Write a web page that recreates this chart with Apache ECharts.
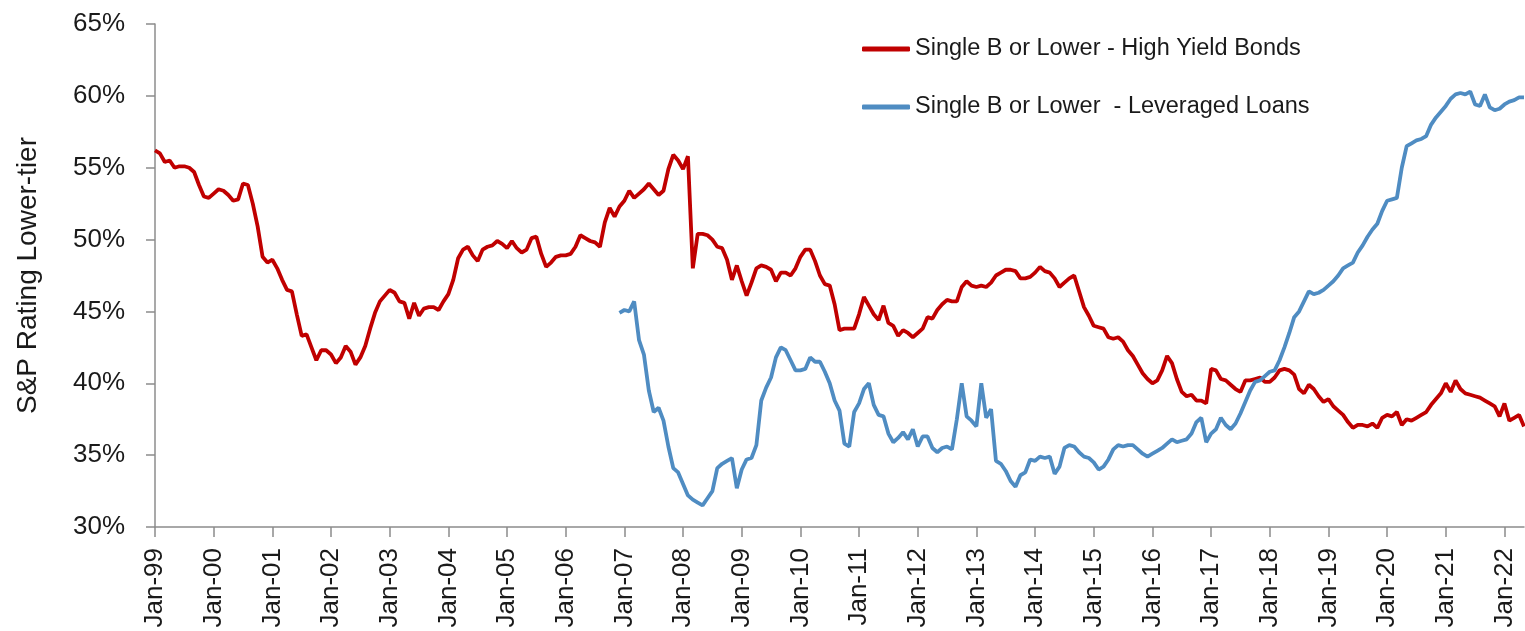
<!DOCTYPE html>
<html>
<head>
<meta charset="utf-8">
<script src="https://cdn.jsdelivr.net/npm/echarts@6/dist/echarts.min.js"></script>
<style>
  html, body { margin: 0; padding: 0; background: #fff; }
  #chart { width: 1525px; height: 631px; }
</style>
</head>
<body>
<div id="chart"></div>
<script>
// month labels Jan-99 .. May-22
const monthNames = ['Jan', 'Feb', 'Mar', 'Apr', 'May', 'Jun', 'Jul', 'Aug', 'Sep', 'Oct', 'Nov', 'Dec']
const months = []
for (let y = 1999; y <= 2022; y++) {
  for (let m = 0; m < 12; m++) {
    if (y === 2022 && m > 4) break
    months.push(monthNames[m] + '-' + String(y % 100).padStart(2, '0'))
  }
}

// Single B or Lower - High Yield Bonds, Jan-99 .. May-22 (%)
const highYieldBonds = [
  56.2, 56.0, 55.4, 55.5, 55.0, 55.1, 55.1, 55.0, 54.7, 53.8, 53.0, 52.9,
  53.2, 53.5, 53.4, 53.1, 52.7, 52.8, 53.9, 53.8, 52.5, 50.9, 48.8, 48.4,
  48.6, 48.0, 47.2, 46.5, 46.4, 44.8, 43.3, 43.4, 42.5, 41.6, 42.3, 42.3,
  42.0, 41.4, 41.8, 42.6, 42.2, 41.3, 41.8, 42.6, 43.8, 44.9, 45.7, 46.1,
  46.5, 46.3, 45.7, 45.6, 44.5, 45.6, 44.7, 45.2, 45.3, 45.3, 45.1, 45.7,
  46.2, 47.2, 48.7, 49.3, 49.5, 48.9, 48.5, 49.3, 49.5, 49.6, 49.9, 49.7,
  49.4, 49.9, 49.4, 49.1, 49.3, 50.1, 50.2, 49.0, 48.1, 48.4, 48.8, 48.9,
  48.9, 49.0, 49.5, 50.3, 50.1, 49.9, 49.8, 49.5, 51.2, 52.2, 51.6, 52.3,
  52.7, 53.4, 52.9, 53.2, 53.5, 53.9, 53.5, 53.1, 53.4, 54.9, 55.9, 55.5,
  54.9, 55.8, 48.0, 50.4, 50.4, 50.3, 50.0, 49.5, 49.4, 48.6, 47.2, 48.2,
  47.1, 46.1, 47.0, 48.0, 48.2, 48.1, 47.9, 47.1, 47.7, 47.7, 47.5, 48.0,
  48.8, 49.3, 49.3, 48.5, 47.5, 46.9, 46.8, 45.5, 43.7, 43.8, 43.8, 43.8,
  44.8, 46.0, 45.4, 44.8, 44.4, 45.4, 44.2, 44.0, 43.3, 43.7, 43.5, 43.2,
  43.5, 43.8, 44.6, 44.5, 45.1, 45.5, 45.8, 45.7, 45.7, 46.7, 47.1, 46.8,
  46.7, 46.8, 46.7, 47.0, 47.5, 47.7, 47.9, 47.9, 47.8, 47.3, 47.3, 47.4,
  47.7, 48.1, 47.8, 47.7, 47.3, 46.7, 47.0, 47.3, 47.5, 46.4, 45.3, 44.7,
  44.0, 43.9, 43.8, 43.2, 43.1, 43.2, 42.9, 42.3, 41.9, 41.3, 40.7, 40.3,
  40.0, 40.2, 40.9, 41.9, 41.4, 40.3, 39.4, 39.1, 39.2, 38.8, 38.8, 38.6,
  41.0, 40.9, 40.3, 40.2, 39.9, 39.6, 39.4, 40.2, 40.2, 40.3, 40.4, 40.1,
  40.1, 40.4, 40.9, 41.0, 40.9, 40.6, 39.6, 39.3, 39.9, 39.6, 39.1, 38.7,
  38.9, 38.4, 38.1, 37.8, 37.3, 36.9, 37.1, 37.1, 37.0, 37.2, 36.9, 37.6,
  37.8, 37.7, 38.0, 37.1, 37.5, 37.4, 37.6, 37.8, 38.0, 38.5, 38.9, 39.3,
  40.0, 39.4, 40.2, 39.6, 39.3, 39.2, 39.1, 39.0, 38.8, 38.6, 38.4, 37.7,
  38.6, 37.4, 37.6, 37.8, 37.0
]

// Single B or Lower - Leveraged Loans, Dec-06 .. May-22 (%)
const loansStart = 'Dec-06'
const leveragedLoans = [
  44.9,
  45.1, 45.0, 45.7, 43.0, 42.0, 39.5, 38.0, 38.3, 37.4, 35.6, 34.1, 33.8,
  33.0, 32.2, 31.9, 31.7, 31.5, 32.0, 32.5, 34.1, 34.4, 34.6, 34.8, 32.7,
  34.0, 34.7, 34.8, 35.7, 38.8, 39.7, 40.4, 41.8, 42.5, 42.3, 41.6, 40.9,
  40.9, 41.0, 41.8, 41.5, 41.5, 40.8, 40.0, 38.8, 38.1, 35.8, 35.6, 38.0,
  38.6, 39.6, 40.0, 38.5, 37.8, 37.7, 36.5, 35.9, 36.2, 36.6, 36.1, 36.8,
  35.6, 36.3, 36.3, 35.5, 35.2, 35.5, 35.6, 35.4, 37.5, 40.0, 37.7, 37.4,
  37.0, 40.0, 37.6, 38.2, 34.6, 34.4, 33.9, 33.2, 32.8, 33.6, 33.8, 34.7,
  34.6, 34.9, 34.8, 34.9, 33.7, 34.2, 35.5, 35.7, 35.6, 35.2, 34.9, 34.8,
  34.5, 34.0, 34.2, 34.7, 35.4, 35.7, 35.6, 35.7, 35.7, 35.4, 35.1, 34.9,
  35.1, 35.3, 35.5, 35.8, 36.1, 35.9, 36.0, 36.1, 36.5, 37.3, 37.6, 35.9,
  36.5, 36.8, 37.6, 37.1, 36.8, 37.2, 37.9, 38.7, 39.5, 40.1, 40.2, 40.5,
  40.8, 40.9, 41.6, 42.5, 43.5, 44.6, 45.0, 45.7, 46.4, 46.2, 46.3, 46.5,
  46.8, 47.1, 47.5, 48.0, 48.2, 48.4, 49.1, 49.6, 50.2, 50.7, 51.1, 52.0,
  52.7, 52.8, 52.9, 55.0, 56.5, 56.7, 56.9, 57.0, 57.2, 58.0, 58.5, 58.9,
  59.3, 59.8, 60.1, 60.2, 60.1, 60.3, 59.4, 59.3, 60.1, 59.2, 59.0, 59.1,
  59.4, 59.6, 59.7, 59.9, 59.9
]

const seriesNames = ['Single B or Lower - High Yield Bonds', 'Single B or Lower  - Leveraged Loans']
const fontFamily = '"Liberation Sans", Arial, sans-serif'
const isJan = (index) => index % 12 === 0

const loanOffset = months.indexOf(loansStart)
const loanData = leveragedLoans.map((v, i) => [months[loanOffset + i], v])

const chart = echarts.init(document.getElementById('chart'))

const options = {
  animation: false,
  textStyle: { fontFamily: fontFamily },
  grid: {
    left: 155,
    right: 1,
    top: 24,
    bottom: 104
  },
  legend: {
    orient: 'vertical',
    left: 857,
    top: 32,
    itemWidth: 48,
    itemHeight: 5,
    itemGap: 34,
    icon: 'roundRect',
    textStyle: { fontSize: 23.5, color: '#1a1a1a', fontFamily: fontFamily },
    data: seriesNames
  },
  xAxis: {
    type: 'category',
    boundaryGap: false,
    data: months,
    axisLine: { lineStyle: { color: '#8c8c8c', width: 1.5 } },
    axisTick: { interval: isJan, length: 10, lineStyle: { color: '#8c8c8c', width: 1.5 } },
    axisLabel: {
      interval: isJan,
      rotate: 90,
      fontSize: 26,
      color: '#1a1a1a',
      margin: 21,
      fontFamily: fontFamily
    },
    splitLine: { show: false }
  },
  yAxis: {
    type: 'value',
    min: 30,
    max: 65,
    interval: 5,
    name: 'S&P Rating Lower-tier',
    nameLocation: 'middle',
    nameGap: 113,
    nameTextStyle: { fontSize: 28, color: '#1a1a1a', fontFamily: fontFamily },
    axisLine: { show: true, lineStyle: { color: '#8c8c8c', width: 1.5 } },
    axisTick: { show: true, length: 9, lineStyle: { color: '#8c8c8c', width: 1.5 } },
    axisLabel: {
      formatter: '{value}%',
      fontSize: 26,
      color: '#1a1a1a',
      margin: 30,
      fontFamily: fontFamily
    },
    splitLine: { show: false }
  },
  series: [
    {
      name: seriesNames[0],
      type: 'line',
      showSymbol: false,
      data: highYieldBonds,
      itemStyle: { color: '#c00000' },
      lineStyle: { color: '#c00000', width: 3.8 }
    },
    {
      name: seriesNames[1],
      type: 'line',
      showSymbol: false,
      data: loanData,
      itemStyle: { color: '#4f8cc2' },
      lineStyle: { color: '#4f8cc2', width: 3.8 }
    }
  ]
}

chart.setOption(options)
</script>
</body>
</html>
